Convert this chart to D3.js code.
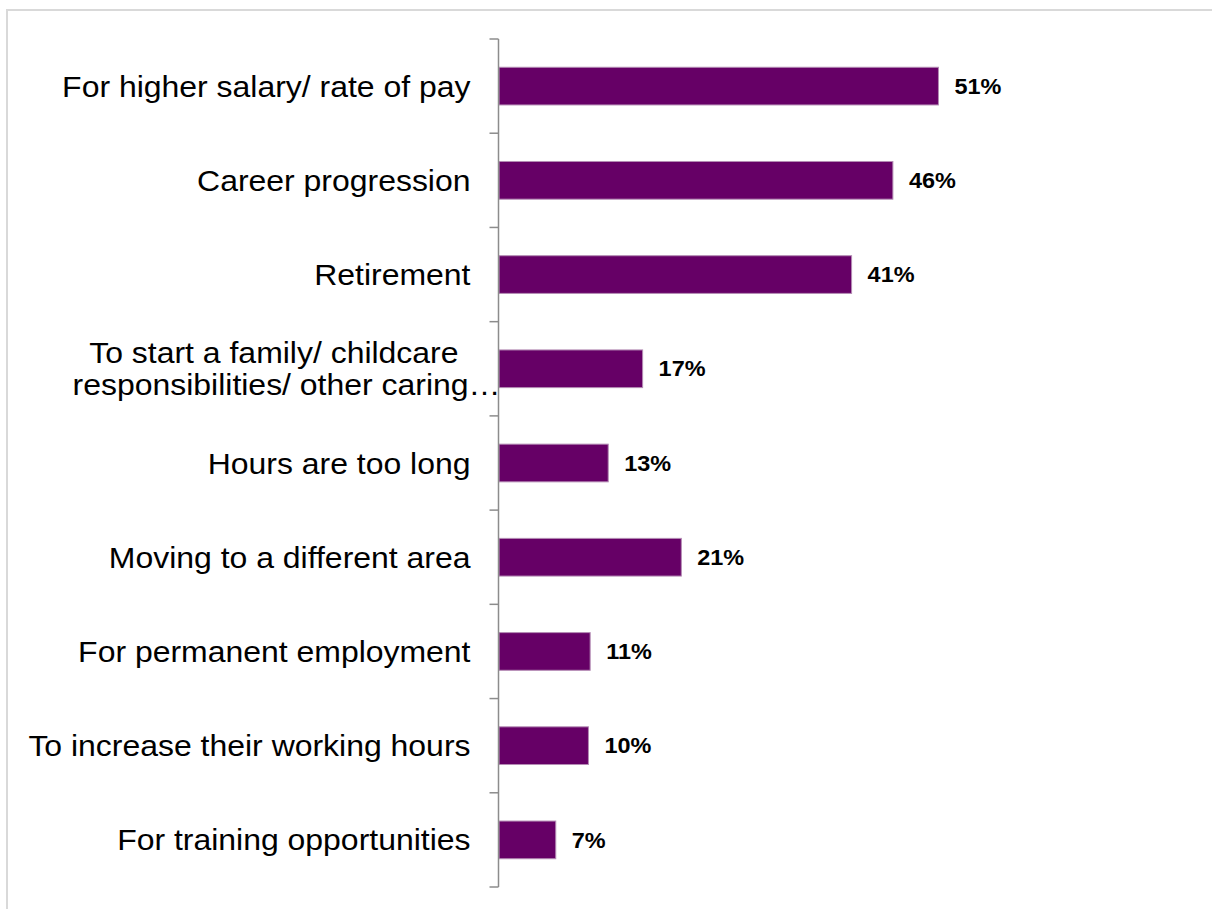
<!DOCTYPE html>
<html>
<head>
<meta charset="utf-8">
<script src="https://cdn.jsdelivr.net/npm/d3@7"></script>
<style>
  html, body { margin: 0; padding: 0; background: #fff; }
  svg { display: block; }
</style>
</head>
<body>
<svg id="chart" width="1212" height="909"></svg>
<script>
// Categories (top to bottom)
const categories = [
  "For higher salary/ rate of pay",
  "Career progression",
  "Retirement",
  "To start a family/ childcare responsibilities/ other caring…",
  "Hours are too long",
  "Moving to a different area",
  "For permanent employment",
  "To increase their working hours",
  "For training opportunities"
];
// Category label lines as displayed
const categoryLines = [
  ["For higher salary/ rate of pay"],
  ["Career progression"],
  ["Retirement"],
  ["To start a family/ childcare", "responsibilities/ other caring…"],
  ["Hours are too long"],
  ["Moving to a different area"],
  ["For permanent employment"],
  ["To increase their working hours"],
  ["For training opportunities"]
];
// Percentages
const values = [51.1, 45.8, 41.0, 16.7, 12.7, 21.2, 10.6, 10.4, 6.6];
// Displayed labels
const valueLabels = ["51%", "46%", "41%", "17%", "13%", "21%", "11%", "10%", "7%"];

(function () {
  const svg = d3.select("#chart");
  const W = 1212, H = 909;
  const axisX = 498.5;
  const plotTop = 39, plotBottom = 887;
  const stretch = 1.065;

  // chart frame
  svg.append("rect")
    .attr("x", 7).attr("y", 10)
    .attr("width", W + 20).attr("height", H + 20)
    .attr("fill", "#fff")
    .attr("stroke", "#d9d9d9").attr("stroke-width", 2);

  const x = d3.scaleLinear().domain([0, 60]).range([axisX + 0.5, axisX + 0.5 + 516]);
  const y = d3.scaleBand().domain(categories).range([plotTop, plotBottom])
    .paddingInner(0.6).paddingOuter(0.3);

  // bars
  svg.append("g").selectAll("rect")
    .data(categories)
    .join("rect")
    .attr("x", x(0))
    .attr("y", d => y(d))
    .attr("width", (d, i) => x(values[i]) - x(0))
    .attr("height", y.bandwidth())
    .attr("fill", "#660066")
    .attr("stroke", "#b48cb4")
    .attr("stroke-width", 1);

  // axis line and boundary ticks
  const step = y.step();
  const axisG = svg.append("g");
  axisG.append("line")
    .attr("x1", axisX).attr("x2", axisX)
    .attr("y1", plotTop).attr("y2", plotBottom)
    .attr("stroke", "#8c8c8c").attr("stroke-width", 1.5);
  const boundaries = categories.map(c => y(c) - (step - y.bandwidth()) / 2).concat([plotBottom]);
  axisG.selectAll("line.tick")
    .data(boundaries)
    .join("line")
    .attr("class", "tick")
    .attr("x1", axisX - 9).attr("x2", axisX)
    .attr("y1", d => d).attr("y2", d => d)
    .attr("stroke", "#8c8c8c").attr("stroke-width", 1.5);

  // category labels
  const fontCat = 30;
  const lineH = 32;
  const catG = svg.append("g")
    .attr("font-family", "'Liberation Sans', Arial, sans-serif")
    .attr("font-size", fontCat)
    .attr("fill", "#000");
  categories.forEach((c, i) => {
    const lines = categoryLines[i];
    const cy = y(c) + y.bandwidth() / 2;
    const n = lines.length;
    lines.forEach((ln, j) => {
      const baseY = cy + (j - (n - 1) / 2) * lineH + fontCat * 0.35;
      let endX = axisX - 28;
      if (n > 1) endX = j === 0 ? axisX - 40 : axisX + 2;
      catG.append("text")
        .attr("transform", `translate(${endX},${baseY}) scale(${stretch},1)`)
        .attr("text-anchor", "end")
        .text(ln);
    });
  });

  // value labels
  const fontVal = 22;
  svg.append("g")
    .attr("font-family", "'Liberation Sans', Arial, sans-serif")
    .attr("font-size", fontVal)
    .attr("font-weight", "bold")
    .attr("fill", "#000")
    .selectAll("text")
    .data(categories)
    .join("text")
    .attr("transform", (d, i) => `translate(${x(values[i]) + 16},${y(d) + y.bandwidth() / 2 + fontVal * 0.35}) scale(${stretch},1)`)
    .text((d, i) => valueLabels[i]);
})();
</script>
</body>
</html>
